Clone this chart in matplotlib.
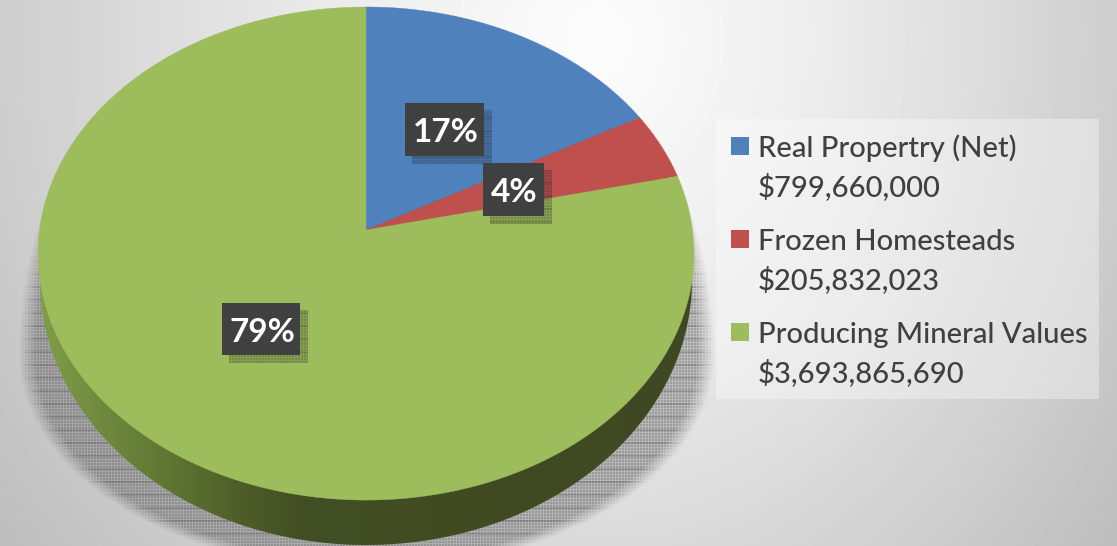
"""
Perspective pie of assessed values, drawn by hand because matplotlib has no 3D pie.
"""
import matplotlib
matplotlib.use('Agg')
import matplotlib.pyplot as plt
from matplotlib.patches import Polygon, Rectangle
from matplotlib.colors import LinearSegmentedColormap, to_rgb
import numpy as np

# ── Data ──
names = ['Real Propertry (Net)', 'Frozen Homesteads', 'Producing Mineral Values']
amounts = [799660000, 205832023, 3693865690]
amount_labels = ['$799,660,000', '$205,832,023', '$3,693,865,690']
pct_labels = ['17%', '4%', '79%']

BLUE = '#4F81BD'
RED = '#C0504D'
GREEN = '#9DBD5C'
COLORS = [BLUE, RED, GREEN]
TEXT = '#404040'
W, H = 1117, 546

plt.rcParams['font.family'] = ['Lato', 'DejaVu Sans']

# pie geometry in pixels
CX, CY = 366, 230
RX, RY, TILT = 326.5, 244.3, 0.0954


def rim(theta):
    """Point on the tilted disc; theta runs clockwise from 12 o'clock."""
    w = 1 + TILT * np.cos(theta)
    return CX + RX * np.sin(theta) / w, CY - RY * np.cos(theta) / w


def halftone(alpha, color, ax, zorder):
    """Lay a meshed shadow over the axes, alpha given per pixel."""
    rows, cols = np.mgrid[0:H, 0:W]
    mesh = 0.8 - 0.3 * ((cols % 3 == 0) | (rows % 3 == 0)) + 0.25 * (rows % 13 < 2)
    rgba = np.zeros((H, W, 4))
    rgba[..., :3] = to_rgb(color)
    rgba[..., 3] = np.clip(mesh * alpha, 0, 1)
    ax.imshow(rgba, extent=(0, W, H, 0), zorder=zorder, interpolation='nearest', aspect='auto')


fig = plt.figure(figsize=(W / 100, H / 100), dpi=100)
ax = fig.add_axes([0, 0, 1, 1])
ax.set_xlim(0, W)
ax.set_ylim(H, 0)
ax.axis('off')

# ── Background ──
yy, xx = np.mgrid[0:H, 0:W]
xscale = np.where(xx > 600, 560, 650)
dist = np.hypot((xx - 600) / xscale, (yy - 40) / 700)
bg = np.clip(0.985 - 0.2 * dist ** 1.3, 0, 1)
ax.imshow(bg, cmap='gray', vmin=0, vmax=1, extent=(0, W, H, 0), zorder=0, aspect='auto')

# ── Ground shadow, egg shaped: longer above its centre, gone above y=175 ──
ry_shadow = np.where(yy < 355, 400, 215)
r = np.hypot((xx - 366) / 348, (yy - 355) / ry_shadow)
fade_top = np.clip((yy - 175) / 45, 0, 1)
halftone(np.clip((1 - r) / 0.05, 0, 1) * fade_top * 0.55, '#404040', ax, 1)

# ── Side wall ──
t = np.linspace(0, 2 * np.pi, 721)
wall_x = 366 + 326 * np.sin(t)
wall_y = 280 - 265 * np.cos(t)
wall_cmap = LinearSegmentedColormap.from_list(
    'wall', [(0, '#809E47'), (0.095, '#6F8A3E'), (0.2, '#5F7533'), (0.3, '#4F5F2A'),
             (0.4, '#424E22'), (1, '#3F4822')])
wall_img = ax.imshow(np.linspace(0, 1, 656)[None, :], cmap=wall_cmap, extent=(38, 694, H, 0),
                     zorder=2, aspect='auto')
wall_patch = Polygon(np.column_stack([wall_x, wall_y]), closed=True, transform=ax.transData)
wall_img.set_clip_path(wall_patch)

# ── Top face, angles come from the amounts ──
edges = np.concatenate([[0], np.cumsum(amounts)]) / np.sum(amounts) * 2 * np.pi
for i, color in enumerate(COLORS):
    a = np.linspace(edges[i], edges[i + 1], 300)
    px, py = rim(a)
    ax.fill(np.r_[CX, px], np.r_[CY, py], color=color, lw=0.3, zorder=3)

# ── Percent labels ──
boxes = [(405, 103, 79, 53), (483, 163, 61, 53), (222, 303, 78, 52)]
for (x, y, w, h), label in zip(boxes, pct_labels):
    shadow = np.zeros((H, W))
    shadow[y + 7:y + h + 8, x + 7:x + w + 8] = 0.4
    halftone(shadow, '#202020', ax, 4)
    # box with its faint dot texture
    rows, cols = np.mgrid[0:h, 0:w]
    tex = 0.25 + 0.035 * ((rows % 6 == 3) & ((cols + 3 * (rows % 12 == 3)) % 6 == 3))
    ax.imshow(tex, cmap='gray', vmin=0, vmax=1, extent=(x, x + w, y + h, y), zorder=5,
              interpolation='nearest', aspect='auto')
    ax.text(x + w / 2 + 1, y + h / 2 + 3, label, ha='center', va='center', color='white',
            fontsize=24, fontweight='bold', zorder=6)
ax.set_xlim(0, W)
ax.set_ylim(H, 0)

# ── Legend ──
ax.add_patch(Rectangle((716, 119), 383, 280, facecolor='white', alpha=0.35, edgecolor='none', zorder=2))
for i, name in enumerate(names):
    y0 = 147 + 93 * i
    ax.add_patch(Rectangle((731, y0 - 10), 18, 18, facecolor=COLORS[i], edgecolor='none', zorder=3))
    ax.text(758, y0 + 1.5, name, va='center', ha='left', fontsize=21, fontweight='medium', color=TEXT, zorder=3)
    ax.text(758, y0 + 40, amount_labels[i], va='center', ha='left', fontsize=21, fontweight='medium', color=TEXT, zorder=3)

fig.savefig('out.png', dpi=100)
